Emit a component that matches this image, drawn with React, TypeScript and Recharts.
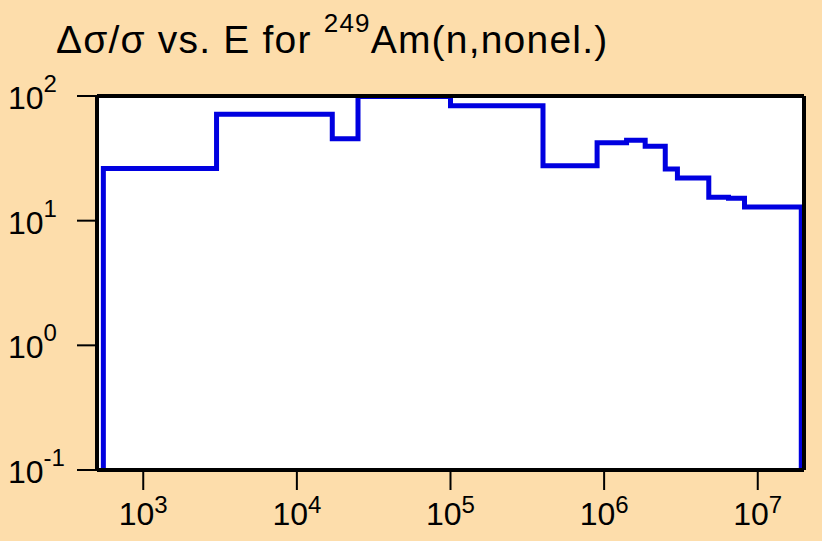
import { LineChart, Line, XAxis, YAxis, ReferenceArea } from "recharts";

// Incidence energy (eV) where each group starts, and relative uncertainty (%)
const energies = [550, 550, 3000, 17000, 25000, 1e5, 4e5, 9e5, 1.4e6, 1.85e6, 2.5e6, 3e6, 4.8e6, 6.45e6, 8.2e6, 1.92e7];
const relErr = [0.1, 26.2, 71.3, 45.4, 99, 83.6, 27.6, 42.2, 44.1, 39.5, 26.0, 22.0, 15.4, 15.1, 12.9, 0.1];

const xTicks = [1e3, 1e4, 1e5, 1e6, 1e7];
const yTicks = [0.1, 1, 10, 100];
const X_DOMAIN = [500, 2e7];
const Y_DOMAIN = [0.1, 100];

const BG = "#FDDDAB";
const BLUE = "#0000E0";
const FONT = "'Liberation Sans', Arial, Helvetica, sans-serif";

const data = energies.map((e, i) => ({ e, err: relErr[i] }));

const expOf = (v: number) => String(Math.round(Math.log10(v)));

function XTick({ x, y, payload }: any) {
  return (
    <text x={x} y={y + 33} textAnchor="middle" fontFamily={FONT} fill="#000">
      <tspan fontSize={32}>10</tspan>
      <tspan fontSize={24} dy={-12}>{expOf(payload.value)}</tspan>
    </text>
  );
}

function YTick({ x, y, payload }: any) {
  return (
    <text x={x - 67} y={y + 13} textAnchor="start" fontFamily={FONT} fill="#000">
      <tspan fontSize={32}>10</tspan>
      <tspan fontSize={24} dy={-17}>{expOf(payload.value)}</tspan>
    </text>
  );
}

const axisLine = { stroke: "#000", strokeWidth: 4 };
const tickLine = { stroke: "#000", strokeWidth: 2 };

export default function App() {
  return (
    <div style={{ position: "absolute", left: 0, top: 0, width: 822, height: 541, background: BG }}>
      <svg width={822} height={70} style={{ position: "absolute", left: 0, top: 0 }}>
        <text x={56} y={53} fontFamily={FONT} fontSize={39} letterSpacing={1.2} fill="#000">
          Δσ/σ vs. E for <tspan fontSize={26} dy={-21}>249</tspan>
          <tspan dy={21}>Am(n,nonel.)</tspan>
        </text>
      </svg>
      <div style={{ position: "absolute", left: 0, top: 0 }}>
        <LineChart
          width={822}
          height={541}
          data={data}
          margin={{ top: 95, left: 96, right: 17, bottom: 70 }}
        >
          <ReferenceArea
            x1={X_DOMAIN[0]}
            x2={X_DOMAIN[1]}
            y1={Y_DOMAIN[0]}
            y2={Y_DOMAIN[1]}
            fill="#fff"
            fillOpacity={1}
            stroke="none"
            ifOverflow="visible"
          />
          <Line
            type="stepAfter"
            dataKey="err"
            stroke={BLUE}
            strokeWidth={5}
            dot={false}
            activeDot={false}
            isAnimationActive={false}
          />
          <XAxis
            dataKey="e"
            type="number"
            scale="log"
            domain={X_DOMAIN}
            allowDataOverflow
            ticks={xTicks}
            height={1}
            tickSize={20}
            axisLine={axisLine}
            tickLine={tickLine}
            tick={<XTick />}
            interval={0}
          />
          <XAxis
            xAxisId="top"
            orientation="top"
            dataKey="e"
            type="number"
            scale="log"
            domain={X_DOMAIN}
            allowDataOverflow
            ticks={xTicks}
            height={1}
            tickSize={20}
            axisLine={axisLine}
            tickLine={tickLine}
            tick={false}
            interval={0}
          />
          <YAxis
            type="number"
            scale="log"
            domain={Y_DOMAIN}
            allowDataOverflow
            ticks={yTicks}
            width={1}
            tickSize={20}
            axisLine={axisLine}
            tickLine={tickLine}
            tick={<YTick />}
            interval={0}
          />
          <YAxis
            yAxisId="right"
            orientation="right"
            type="number"
            scale="log"
            domain={Y_DOMAIN}
            allowDataOverflow
            ticks={yTicks}
            width={1}
            tickSize={20}
            axisLine={axisLine}
            tickLine={tickLine}
            tick={false}
            interval={0}
          />
        </LineChart>
      </div>
    </div>
  );
}
